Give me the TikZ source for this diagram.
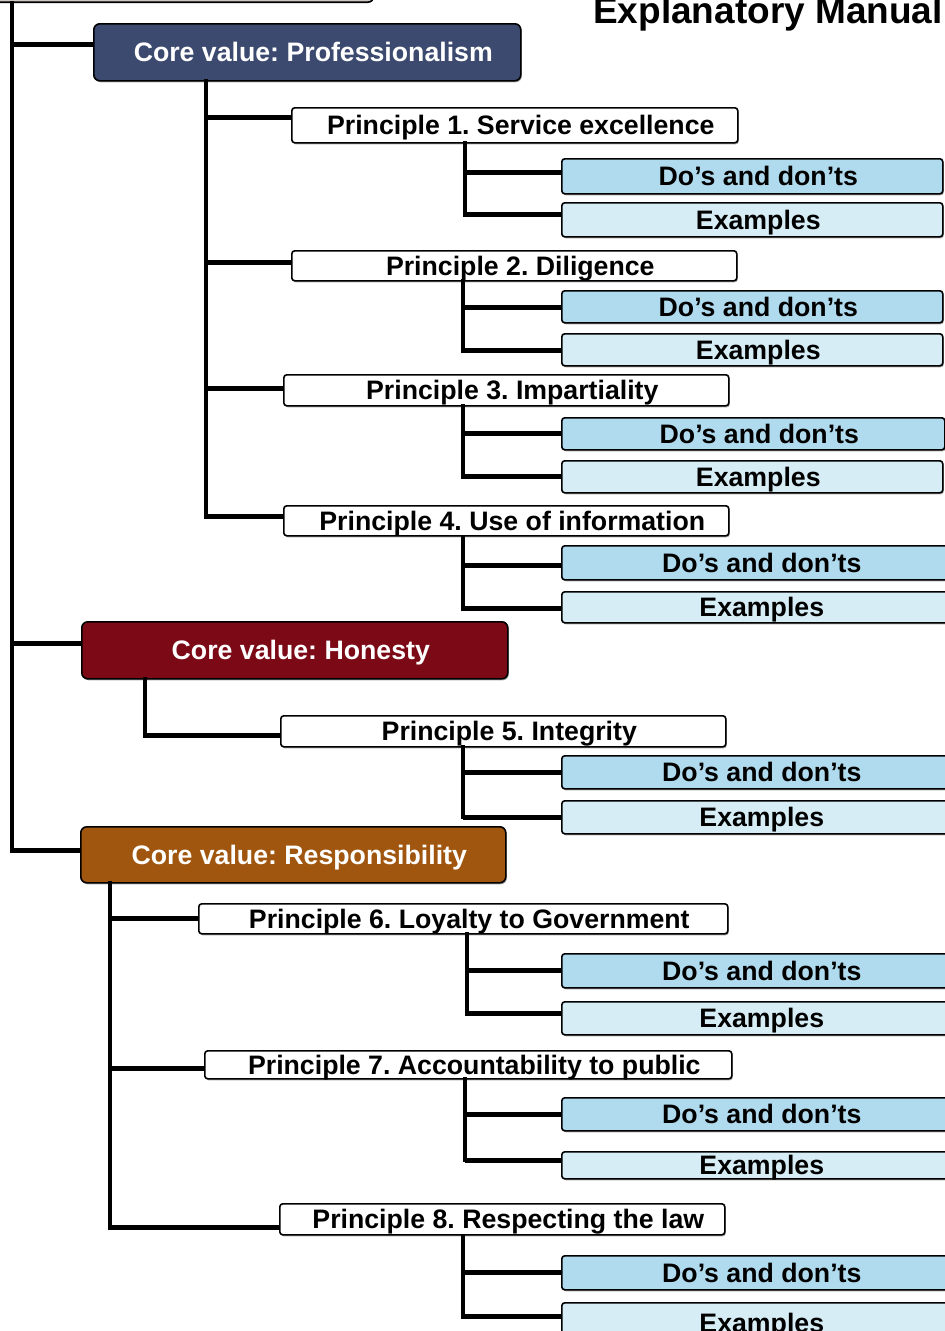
\documentclass[tikz,border=0pt]{standalone}
\usepackage{fontspec}
\setmainfont{Liberation Sans}
\usetikzlibrary{shadows}
\frenchspacing
\definecolor{profc}{HTML}{3C4A70}
\definecolor{honc}{HTML}{7B0A16}
\definecolor{respc}{HTML}{A0560E}
\definecolor{dosc}{HTML}{B0DBEE}
\definecolor{exc}{HTML}{D6EDF6}
\definecolor{topc}{HTML}{CEC7C0}
\tikzset{
 box/.style={draw=black, line width=1.6pt, rounded corners=3pt, anchor=north west, inner sep=0pt,
   text height=19.1pt, text depth=0pt, font=\fontsize{26.7}{30}\selectfont\bfseries\frenchspacing,
   execute at begin node={\hspace*{12pt}},
   drop shadow={shadow xshift=1pt, shadow yshift=-1.5pt, fill=black, opacity=0.35}},
 corebox/.style={box, rounded corners=6pt, text=white},
 pbox/.style={box, fill=white},
 dosbox/.style={box, fill=dosc, minimum width=388pt},
 exbox/.style={box, fill=exc, minimum width=388pt},
 vline/.style={line width=4.2pt, line cap=rect},
 hline/.style={line width=5pt},
}
\begin{document}
\begin{tikzpicture}[x=1pt,y=-1pt]
\useasboundingbox (0,0) rectangle (945,1331);
\clip (0,0) rectangle (945,1331);

% top box and title
\node[draw, line width=1.6pt, fill=topc, rounded corners=6pt, anchor=south west,
      minimum width=385pt, minimum height=50pt, inner sep=0pt] (topbox) at (-12,3) {};
\node[anchor=base west, inner sep=0pt, font=\fontsize{37}{40}\selectfont\bfseries] (title) at (593,23) {Explanatory Manual};

% core values
\node[corebox, fill=profc, minimum width=427pt, minimum height=57pt] (prof) at (93,23) {Core value: Professionalism};
\node[corebox, fill=honc, minimum width=426pt, minimum height=57pt] (hon) at (81,621) {Core value: Honesty};
\node[corebox, fill=respc, minimum width=425pt, minimum height=56pt] (resp) at (80,826) {Core value: Responsibility};

% principles
\node[pbox, minimum width=446pt, minimum height=35pt] (P1) at (291,107) {Principle 1. Service excellence};
\node[pbox, minimum width=445pt, minimum height=30pt] (P2) at (291,250) {Principle 2. Diligence};
\node[pbox, minimum width=445pt, minimum height=31pt] (P3) at (283,374) {Principle 3. Impartiality};
\node[pbox, minimum width=445pt, minimum height=30pt] (P4) at (283,505) {Principle 4. Use of information};
\node[pbox, minimum width=445pt, minimum height=31pt] (P5) at (280,715) {Principle 5. Integrity};
\node[pbox, minimum width=529pt, minimum height=30pt] (P6) at (198,903) {Principle 6. Loyalty to Government};
\node[pbox, minimum width=527pt, minimum height=28pt] (P7) at (204,1050) {Principle 7. Accountability to public};
\node[pbox, minimum width=445pt, minimum height=31pt] (P8) at (279,1203) {Principle 8. Respecting the law};

% do's and examples
\node[dosbox, minimum width=381pt, minimum height=35pt] (D1) at (561,158) {Do’s and don’ts};
\node[exbox, minimum width=381pt, minimum height=34pt] (E1) at (561,202) {Examples};
\node[dosbox, minimum width=381pt, minimum height=32pt] (D2) at (561,290) {Do’s and don’ts};
\node[exbox, minimum width=381pt, minimum height=32pt] (E2) at (561,333) {Examples};
\node[dosbox, minimum width=383pt, minimum height=32pt] (D3) at (561,417) {Do’s and don’ts};
\node[exbox, minimum width=381pt, minimum height=32pt] (E3) at (561,460) {Examples};
\node[dosbox, minimum height=34pt] (D4) at (561,545) {Do’s and don’ts};
\node[exbox, minimum height=31pt] (E4) at (561,591) {Examples};
\node[dosbox, minimum height=33pt] (D5) at (561,755) {Do’s and don’ts};
\node[exbox, minimum height=33pt] (E5) at (561,800) {Examples};
\node[dosbox, minimum height=34pt] (D6) at (561,953) {Do’s and don’ts};
\node[exbox, minimum height=33pt] (E6) at (561,1001) {Examples};
\node[dosbox, minimum height=33pt] (D7) at (561,1097) {Do’s and don’ts};
\node[exbox, minimum height=27pt] (E7) at (561,1151) {Examples};
\node[dosbox, minimum height=34pt] (D8) at (561,1255) {Do’s and don’ts};
\node[exbox, minimum height=40pt] (E8) at (561,1302) {Examples};

% entry points
\coordinate (profin) at ([yshift=7.5pt]prof.west);
\coordinate (honin) at ([yshift=6.5pt]hon.west);
\coordinate (respin) at ([yshift=4pt]resp.west);
\coordinate (P1in) at ([yshift=7.5pt]P1.west);
\coordinate (P2in) at ([yshift=3pt]P2.west);
\coordinate (P3in) at ([yshift=1.5pt]P3.west);
\coordinate (P4in) at ([yshift=4pt]P4.west);
\coordinate (P5in) at ([yshift=-4.5pt]P5.west);
\coordinate (P6in) at (P6.west);
\coordinate (P7in) at ([yshift=-4pt]P7.west);
\coordinate (P8in) at ([yshift=-8.5pt]P8.west);
\coordinate (D1in) at ([yshift=3.5pt]D1.west);
\coordinate (E1in) at ([yshift=5pt]E1.west);
\coordinate (D2in) at ([yshift=-1pt]D2.west);
\coordinate (E2in) at ([yshift=-1pt]E2.west);
\coordinate (D3in) at (D3.west);
\coordinate (E3in) at (E3.west);
\coordinate (D4in) at ([yshift=-3pt]D4.west);
\coordinate (E4in) at ([yshift=-1.5pt]E4.west);
\coordinate (D5in) at (D5.west);
\coordinate (E5in) at (E5.west);
\coordinate (D6in) at (D6.west);
\coordinate (E6in) at ([yshift=4.5pt]E6.west);
\coordinate (D7in) at (D7.west);
\coordinate (E7in) at ([yshift=5pt]E7.west);
\coordinate (D8in) at (D8.west);
\coordinate (E8in) at ([yshift=6pt]E8.west);

% bus tops
\coordinate (tt) at (12,3);
\coordinate (pb) at (206,81);
\coordinate (hb) at (145,679);
\coordinate (rb) at (110,883);
\coordinate (b1) at (465,143);
\coordinate (b2) at (463,281);
\coordinate (b3) at (463,406);
\coordinate (b4) at (463,537);
\coordinate (b5) at (463,747);
\coordinate (b6) at (467,934);
\coordinate (b7) at (465,1079);
\coordinate (b8) at (463,1237);

% main trunk
\draw[vline] (tt) -- (tt |- respin);
\draw[hline] (tt |- profin) -- (profin);
\draw[hline] (tt |- honin) -- (honin);
\draw[hline] (tt |- respin) -- (respin);

% professionalism
\draw[vline] (pb) -- (pb |- P4in);
\draw[hline] (pb |- P1in) -- (P1in);
\draw[hline] (pb |- P2in) -- (P2in);
\draw[hline] (pb |- P3in) -- (P3in);
\draw[hline] (pb |- P4in) -- (P4in);

% honesty
\draw[vline] (hb) -- (hb |- P5in);
\draw[hline] (hb |- P5in) -- (P5in);

% responsibility
\draw[vline] (rb) -- (rb |- P8in);
\draw[hline] (rb |- P6in) -- (P6in);
\draw[hline] (rb |- P7in) -- (P7in);
\draw[hline] (rb |- P8in) -- (P8in);

% principle children
\foreach \i in {1,...,8}{
  \draw[vline] (b\i) -- (b\i |- E\i in);
  \draw[hline] (b\i |- D\i in) -- (D\i in);
  \draw[hline] (b\i |- E\i in) -- (E\i in);
}
\end{tikzpicture}
\end{document}
